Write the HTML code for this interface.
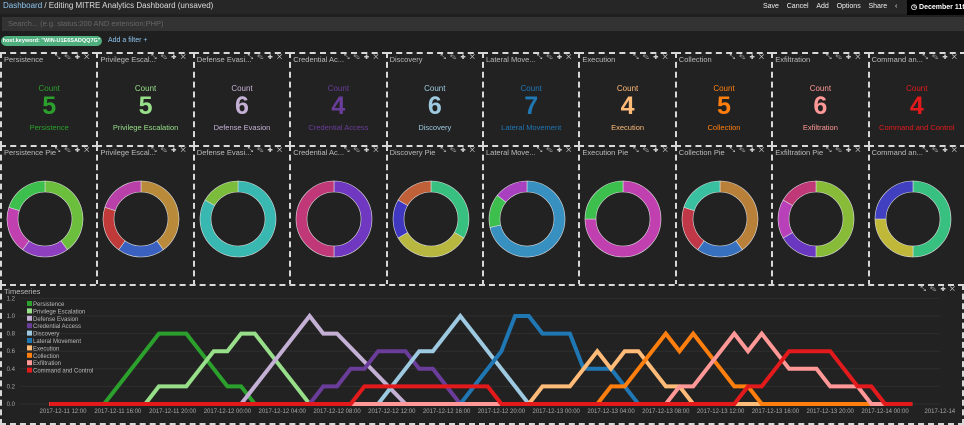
<!DOCTYPE html>
<html><head><meta charset="utf-8">
<style>
body{margin:0;width:964px;height:423px;overflow:hidden;background:#1f1f1f;font-family:"Liberation Sans",sans-serif;position:relative}
.abs{position:absolute}
.panel{position:absolute;box-sizing:border-box;border:2px dashed #d8d8d8;background:#222}
.ptitle{position:absolute;left:2px;top:1px;font-size:7.5px;color:#bbb;white-space:nowrap}
.picons{position:absolute;right:3px;top:0px;font-size:7px;color:#ccc;letter-spacing:4px}
.mcount{position:absolute;left:0;right:0;top:30px;text-align:center;font-size:8px}
.mnum{position:absolute;left:0;right:0;top:38px;text-align:center;font-size:25px;font-weight:bold}
.mlab{position:absolute;left:0;right:0;top:69px;text-align:center;font-size:7.5px}
</style></head><body>
<div class="abs" style="left:0;top:0;width:964px;height:14px;background:#262626"></div>
<div class="abs" style="left:3px;top:1px;font-size:8px;color:#ddd"><span style="color:#8fc6f0">Dashboard</span> / Editing MITRE Analytics Dashboard (unsaved)</div>
<div class="abs" style="left:763px;top:3px;font-size:7px;color:#eee;white-space:nowrap">
<span>Save</span>&nbsp;&nbsp;&nbsp;&nbsp;<span>Cancel</span>&nbsp;&nbsp;&nbsp;&nbsp;<span>Add</span>&nbsp;&nbsp;&nbsp;&nbsp;<span>Options</span>&nbsp;&nbsp;&nbsp;&nbsp;<span>Share</span>&nbsp;&nbsp;&nbsp;&nbsp;<span>&lsaquo;</span></div>
<div class="abs" style="left:907px;top:0;width:57px;height:15px;background:#000;color:#fff;font-size:7px;font-weight:bold;line-height:15px;padding-left:4px;white-space:nowrap;overflow:hidden">&#9719; December 11th</div>
<div class="abs" style="left:2px;top:17px;width:956px;height:14px;background:#333;color:#666;font-size:7.5px;line-height:14px;padding-left:6px">Search... (e.g. status:200 AND extension:PHP)</div>
<div class="abs" style="left:1px;top:36px;width:101px;height:10px;border-radius:5px;background:#4fae7e;color:#fff;font-size:5.5px;font-weight:bold;line-height:10px;text-align:center;white-space:nowrap;overflow:hidden">host.keyword: "WIN-U1E6SADQQ7G"</div>
<div class="abs" style="left:108px;top:37px;font-size:7px;color:#8fc6f0">Add a filter +</div>
<div id="panels"></div>
<div class="panel" style="left:0;top:284px;width:964px;height:141px">
<div class="ptitle">Timeseries</div>
<div class="picons">&#10529;&#9998;&#10010;&#10005;</div>
</div>
<svg id="ts" class="abs" style="left:0;top:0" width="964" height="423"></svg>
<script>
const metricTitles=["Persistence","Privilege Escal...","Defense Evasi...","Credential Ac...","Discovery","Lateral Move...","Execution","Collection","Exfiltration","Command an..."];
const pieTitles=["Persistence Pie","Privilege Escal...","Defense Evasi...","Credential Ac...","Discovery Pie","Lateral Move...","Execution Pie","Collection Pie","Exfiltration Pie","Command an..."];
const tactics=["Persistence","Privilege Escalation","Defense Evasion","Credential Access","Discovery","Lateral Movement","Execution","Collection","Exfiltration","Command and Control"];
const counts=[5,5,6,4,6,7,4,5,6,4];
const tacticColors=["#2ca02c","#98df8a","#c5b0d5","#6a3d9a","#9ecae1","#1f77b4","#ffbb78","#ff7f0e","#ff9896","#e31a1c"];
const pieValues=[[2,1,1,1],[2,1,1,1],[5,1],[2,2],[2,2,1,1],[5,1,1],[3,1],[2,1,1,1],[3,1,1,1],[2,1,1]];
const pieColors=[["#6cbf3c","#8d3fc0","#c040b0","#3cbf4c"],["#b88a3a","#3a60c0","#c03a3a","#b840a8"],["#38b8b0","#7cbc3c"],["#7038c0","#c03878"],["#38c080","#b8b840","#4038c0","#c06038"],["#3890c0","#3cbf4c","#a840c0"],["#c040b0","#3cbf4c"],["#b88038","#3870c0","#c03848","#38c0a0"],["#88bb38","#6a38c0","#b840b8","#c03878"],["#38c080","#c0b838","#4040c0"]];
const NS="http://www.w3.org/2000/svg";
const pc=document.getElementById('panels');
const W=96.4;
function mk(tag,attrs){const e=document.createElementNS(NS,tag);for(const k in attrs)e.setAttribute(k,attrs[k]);return e;}
for(let i=0;i<10;i++){
  const x=i*W;
  const m=document.createElement('div');m.className='panel';
  
  
  m.style.cssText=`left:${x}px;top:52px;width:${W+2}px;height:95px`;
  m.innerHTML=`<div class="ptitle">${metricTitles[i]}</div><div class="picons">&#10529;&#9998;&#10010;&#10005;</div>
  <div class="mcount" style="color:${tacticColors[i]}">Count</div><div class="mnum" style="color:${tacticColors[i]}">${counts[i]}</div><div class="mlab" style="color:${tacticColors[i]}">${tactics[i]}</div>`;
  pc.appendChild(m);
  const p=document.createElement('div');p.className='panel';
  
  
  p.style.cssText=`left:${x}px;top:145px;width:${W+2}px;height:141px`;
  p.innerHTML=`<div class="ptitle">${pieTitles[i]}</div><div class="picons">&#10529;&#9998;&#10010;&#10005;</div>`;
  const svg=mk('svg',{width:W,height:137,style:'position:absolute;left:0;top:0'});
  const cx=43,cy=72,R=38,r=27;
  const vals=pieValues[i];const tot=vals.reduce((a,b)=>a+b,0);let a0=0;
  vals.forEach((v,j)=>{
    const a1=a0+v/tot*2*Math.PI;
    const pt=(rad,a)=>[cx+rad*Math.sin(a),cy-rad*Math.cos(a)];
    const [x1,y1]=pt(R,a0),[x2,y2]=pt(R,a1),[x3,y3]=pt(r,a1),[x4,y4]=pt(r,a0);
    const lg=(a1-a0)>Math.PI?1:0;
    let d;
    if(v===tot){d=`M${cx} ${cy-R}A${R} ${R} 0 1 1 ${cx-0.01} ${cy-R}ZM${cx} ${cy-r}A${r} ${r} 0 1 0 ${cx-0.01} ${cy-r}Z`;}
    else d=`M${x1} ${y1}A${R} ${R} 0 ${lg} 1 ${x2} ${y2}L${x3} ${y3}A${r} ${r} 0 ${lg} 0 ${x4} ${y4}Z`;
    const s=mk('path',{d:d,fill:pieColors[i][j],stroke:'#ddd','stroke-width':0.6,'fill-rule':'evenodd'});
    
    
    svg.appendChild(s);a0=a1;
  });
  p.appendChild(svg);pc.appendChild(p);
}
</script>
<script>
const xTickLabels=["2017-12-11 12:00","2017-12-11 16:00","2017-12-11 20:00","2017-12-12 00:00","2017-12-12 04:00","2017-12-12 08:00","2017-12-12 12:00","2017-12-12 16:00","2017-12-12 20:00","2017-12-13 00:00","2017-12-13 04:00","2017-12-13 08:00","2017-12-13 12:00","2017-12-13 16:00","2017-12-13 20:00","2017-12-14 00:00"];
const yTicks=[0,0.2,0.4,0.6,0.8,1.0,1.2];
const seriesNames=["Persistence","Privilege Escalation","Defense Evasion","Credential Access","Discovery","Lateral Movement","Execution","Collection","Exfiltration","Command and Control"];
const seriesColors=["#2ca02c","#98df8a","#c5b0d5","#6a3d9a","#9ecae1","#1f77b4","#ffbb78","#ff7f0e","#ff9896","#e31a1c"];
const persistence=[[-1,0],[3,0],[4,0.2],[5,0.4],[6,0.6],[7,0.8],[8,0.8],[9,0.8],[10,0.6],[11,0.4],[12,0.2],[13,0.2],[14,0],[62,0]];
const privilegeEscalation=[[-1,0],[6,0],[7,0.2],[8,0.2],[9,0.2],[10,0.4],[11,0.6],[12,0.6],[13,0.8],[14,0.8],[15,0.6],[16,0.4],[17,0.2],[18,0],[62,0]];
const defenseEvasion=[[-1,0],[13,0],[14,0.2],[15,0.4],[16,0.6],[17,0.8],[18,1.0],[19,0.8],[20,0.8],[21,0.64],[22,0.48],[23,0.32],[24,0.16],[25,0],[62,0]];
const credentialAccess=[[-1,0],[18,0],[19,0.2],[20,0.2],[21,0.4],[22,0.4],[23,0.6],[24,0.6],[25,0.6],[26,0.4],[27,0.4],[28,0.2],[29,0],[62,0]];
const discovery=[[-1,0],[23,0],[24,0.2],[25,0.4],[26,0.6],[27,0.6],[28,0.8],[29,1.0],[30,0.8],[31,0.6],[32,0.4],[33,0.2],[34,0],[62,0]];
const lateralMovement=[[-1,0],[29,0],[30,0.2],[31,0.4],[32,0.6],[33,1.0],[34,1.0],[35,0.8],[36,0.8],[37,0.8],[38,0.4],[39,0.4],[40,0.4],[41,0.2],[42,0],[62,0]];
const execution=[[-1,0],[34,0],[35,0.2],[36,0.2],[37,0.2],[38,0.4],[39,0.6],[40,0.4],[41,0.6],[42,0.6],[43,0.4],[44,0.2],[45,0.2],[46,0],[62,0]];
const collection=[[-1,0],[39,0],[40,0.2],[41,0.2],[42,0.4],[43,0.6],[44,0.8],[45,0.6],[46,0.8],[47,0.6],[48,0.4],[49,0.2],[50,0.2],[51,0],[62,0]];
const exfiltration=[[-1,0],[44,0],[45,0.2],[46,0.2],[47,0.4],[48,0.6],[49,0.8],[50,0.6],[51,0.8],[52,0.6],[53,0.4],[54,0.4],[55,0.4],[56,0.2],[57,0.2],[58,0.2],[59,0],[62,0]];
const commandAndControl=[[-1,0],[21,0],[22,0.2],[31,0.2],[32,0],[49,0],[50,0.2],[51,0.2],[52,0.4],[53,0.6],[56,0.6],[57,0.4],[58,0.2],[59,0.2],[60,0],[62,0]];
const seriesData=[persistence,privilegeEscalation,defenseEvasion,credentialAccess,discovery,lateralMovement,execution,collection,exfiltration,commandAndControl];

const NS2="http://www.w3.org/2000/svg";
const ts=document.getElementById('ts');
const X0=63,PXH=13.7,Y0=404,PXV=88;
const xs=h=>X0+PXH*h, ys=v=>Y0-PXV*v;
function el(tag,a){const e=document.createElementNS(NS2,tag);for(const k in a)e.setAttribute(k,a[k]);return e;}
yTicks.forEach(t=>{
  const g=el('line',{x1:20,x2:940,y1:ys(t),y2:ys(t),stroke:'#2e2e2e','stroke-width':1});
  
  
  ts.appendChild(g);
  const tx=el('text',{x:15,y:ys(t)+2,'text-anchor':'end','font-size':6,fill:'#aaa','font-family':'Liberation Sans'});
  tx.textContent=t.toFixed(1);
  
  
  ts.appendChild(tx);
});
xTickLabels.forEach((l,i)=>{
  const tx=el('text',{x:xs(i*4),y:413,'text-anchor':'middle','font-size':6,fill:'#aaa','font-family':'Liberation Sans'});
  tx.textContent=l;
  
  
  ts.appendChild(tx);
});
const last=el('text',{x:xs(64),y:413,'text-anchor':'middle','font-size':6,fill:'#aaa','font-family':'Liberation Sans'});
last.textContent="2017-12-14";


ts.appendChild(last);
seriesData.forEach((s,i)=>{
  const pl=el('polyline',{points:s.map(p=>xs(p[0])+','+ys(p[1])).join(' '),fill:'none',stroke:seriesColors[i],'stroke-width':4,'stroke-linejoin':'miter'});
  
  
  ts.appendChild(pl);
});
seriesNames.forEach((n,i)=>{
  const y=302+i*7.4;
  const r=el('rect',{x:27,y:y-1,width:5,height:5,fill:seriesColors[i]});
  
  
  ts.appendChild(r);
  const t=el('text',{x:33,y:y+4,'font-size':6,fill:'#bbb','font-family':'Liberation Sans'});
  t.textContent=n;
  
  
  ts.appendChild(t);
});
</script>
</body></html>
